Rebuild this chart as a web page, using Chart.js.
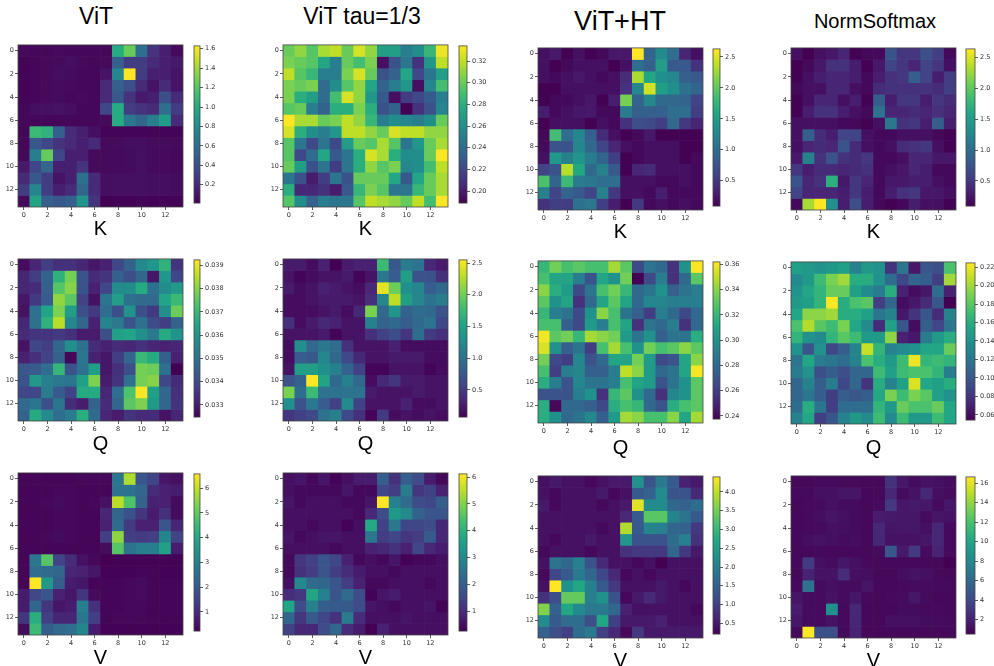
<!DOCTYPE html>
<html>
<head>
<meta charset="utf-8">
<script src="https://cdn.jsdelivr.net/npm/chart.js@4"></script>
<style>
body { margin: 0; background: #fff; width: 994px; height: 666px; position: relative; overflow: hidden; font-family: "Liberation Sans", Arial, sans-serif; }
canvas { position: absolute; }
.lbl { position: absolute; transform: translateX(-50%); white-space: nowrap; color: #000; line-height: 1; }
</style>
</head>
<body>
<script>
const titles = ["ViT", "ViT tau=1/3", "ViT+HT", "NormSoftmax"];
const rowNames = ["K", "Q", "V"];
const axisTicks = [0, 2, 4, 6, 8, 10, 12];

// ---- K ----
const vitK = [
    [0.05,0.04,0.04,0.05,0.04,0.04,0.04,0.04,1.00,1.25,0.60,0.25,0.15,0.05],
    [0.03,0.04,0.05,0.06,0.07,0.05,0.04,0.05,0.50,0.30,0.30,0.20,0.15,0.12],
    [0.03,0.04,0.05,0.07,0.06,0.04,0.04,0.10,0.75,1.63,0.30,0.15,0.15,0.10],
    [0.03,0.04,0.05,0.06,0.05,0.04,0.04,0.20,0.50,0.40,0.20,0.10,0.20,0.10],
    [0.03,0.04,0.05,0.06,0.04,0.05,0.04,0.20,0.45,0.25,0.12,0.15,0.40,0.20],
    [0.04,0.07,0.08,0.09,0.07,0.04,0.04,0.35,1.00,0.30,0.25,0.20,0.60,0.30],
    [0.04,0.04,0.04,0.04,0.04,0.04,0.04,0.05,1.00,0.65,0.55,0.70,0.90,0.20],
    [0.04,1.10,1.05,0.50,0.20,0.15,0.08,0.03,0.03,0.03,0.03,0.03,0.03,0.03],
    [0.04,0.45,0.35,0.25,0.20,0.15,0.20,0.05,0.06,0.07,0.07,0.06,0.06,0.05],
    [0.05,0.70,1.25,0.35,0.15,0.15,0.05,0.05,0.05,0.06,0.08,0.05,0.05,0.04],
    [0.12,0.35,0.55,0.15,0.15,0.25,0.05,0.05,0.05,0.06,0.08,0.05,0.05,0.04],
    [0.20,0.45,0.30,0.10,0.15,0.60,0.20,0.07,0.08,0.08,0.08,0.07,0.07,0.06],
    [0.30,0.75,0.30,0.15,0.20,0.55,0.20,0.07,0.08,0.08,0.08,0.07,0.07,0.06],
    [0.05,0.95,0.50,0.45,0.50,0.85,0.25,0.01,0.02,0.02,0.03,0.02,0.02,0.02]
];
const tauK = [
    [0.300,0.310,0.295,0.315,0.320,0.300,0.325,0.310,0.270,0.270,0.250,0.260,0.285,0.330],
    [0.305,0.300,0.295,0.275,0.250,0.300,0.290,0.305,0.195,0.225,0.245,0.210,0.265,0.320],
    [0.320,0.295,0.285,0.250,0.250,0.305,0.325,0.300,0.225,0.235,0.275,0.220,0.245,0.270],
    [0.305,0.300,0.305,0.240,0.260,0.295,0.310,0.275,0.235,0.250,0.265,0.195,0.255,0.290],
    [0.305,0.280,0.270,0.240,0.290,0.325,0.310,0.265,0.230,0.195,0.215,0.220,0.230,0.250],
    [0.295,0.300,0.250,0.235,0.280,0.280,0.305,0.280,0.225,0.235,0.189,0.210,0.225,0.255],
    [0.334,0.315,0.315,0.300,0.305,0.320,0.310,0.285,0.250,0.260,0.255,0.250,0.260,0.300],
    [0.325,0.280,0.260,0.250,0.265,0.320,0.320,0.310,0.300,0.325,0.320,0.320,0.310,0.310],
    [0.295,0.245,0.220,0.245,0.220,0.270,0.300,0.295,0.315,0.295,0.245,0.265,0.300,0.315],
    [0.295,0.220,0.240,0.275,0.230,0.245,0.280,0.325,0.315,0.280,0.260,0.260,0.300,0.333],
    [0.300,0.270,0.225,0.245,0.215,0.245,0.280,0.310,0.295,0.305,0.255,0.260,0.290,0.320],
    [0.245,0.225,0.200,0.215,0.245,0.225,0.300,0.300,0.300,0.275,0.230,0.275,0.300,0.315],
    [0.280,0.205,0.205,0.210,0.200,0.230,0.285,0.305,0.295,0.245,0.245,0.285,0.300,0.315],
    [0.295,0.260,0.235,0.250,0.245,0.245,0.295,0.320,0.315,0.310,0.300,0.320,0.290,0.333]
];
const htK = [
    [0.20,0.25,0.10,0.20,0.10,0.15,0.25,0.25,2.63,0.90,1.30,1.00,0.35,0.20],
    [0.20,0.10,0.15,0.20,0.20,0.20,0.10,0.20,1.00,0.85,1.50,0.80,0.80,0.45],
    [0.20,0.15,0.20,0.25,0.20,0.15,0.20,0.40,2.30,1.60,1.35,1.25,0.85,0.80],
    [0.10,0.10,0.20,0.20,0.20,0.20,0.20,0.45,1.25,2.45,1.50,1.35,1.05,0.90],
    [0.10,0.15,0.15,0.20,0.25,0.10,0.30,2.10,0.90,1.25,0.95,0.95,0.90,0.60],
    [0.30,0.15,0.20,0.25,0.25,0.15,0.15,1.15,0.85,0.85,0.85,1.00,1.00,0.55],
    [0.10,0.20,0.20,0.20,0.10,0.20,0.15,0.45,0.70,0.65,0.55,0.95,0.50,0.35],
    [0.15,1.85,1.00,1.25,0.85,0.40,0.20,0.10,0.15,0.25,0.10,0.10,0.10,0.10],
    [0.15,0.75,0.75,1.25,0.95,0.60,0.35,0.20,0.15,0.20,0.20,0.20,0.10,0.10],
    [0.20,1.45,1.20,1.40,1.15,0.90,0.55,0.10,0.15,0.20,0.20,0.20,0.10,0.15],
    [0.60,0.75,2.35,1.60,0.95,1.20,0.80,0.10,0.35,0.40,0.20,0.20,0.20,0.15],
    [1.90,0.90,1.80,1.15,1.10,1.00,1.00,0.20,0.20,0.20,0.15,0.15,0.20,0.15],
    [1.20,0.60,0.90,0.80,0.60,1.20,0.50,0.20,0.20,0.15,0.30,0.15,0.15,0.15],
    [0.45,0.55,0.55,1.05,1.10,0.55,0.30,0.09,0.50,0.15,0.20,0.15,0.20,0.15]
];
const nsK = [
    [0.20,0.09,0.20,0.25,0.35,0.10,0.15,0.15,0.75,0.50,0.50,0.70,0.55,0.15],
    [0.10,0.15,0.25,0.45,0.45,0.30,0.10,0.25,0.60,0.50,0.35,0.60,0.50,0.20],
    [0.10,0.20,0.30,0.35,0.35,0.30,0.15,0.30,0.45,0.50,0.85,0.60,0.30,0.55],
    [0.15,0.20,0.20,0.35,0.35,0.20,0.15,0.40,0.45,0.45,0.45,0.45,0.40,0.55],
    [0.10,0.20,0.35,0.35,0.20,0.30,0.10,0.85,0.30,0.50,0.50,0.30,0.50,0.40],
    [0.10,0.30,0.45,0.45,0.30,0.20,0.15,1.05,0.35,0.35,0.40,0.35,0.45,0.35],
    [0.20,0.20,0.20,0.20,0.15,0.15,0.10,0.20,1.10,0.45,0.50,0.30,0.85,0.30],
    [0.20,0.85,0.40,0.30,0.60,0.60,0.20,0.15,0.15,0.20,0.20,0.20,0.15,0.10],
    [0.20,0.35,0.40,0.35,0.75,0.40,0.20,0.15,0.20,0.40,0.45,0.50,0.20,0.10],
    [0.25,1.20,0.45,0.75,0.45,0.40,0.50,0.15,0.15,0.20,0.35,0.35,0.25,0.25],
    [0.50,0.30,0.40,0.40,0.35,0.40,0.45,0.15,0.20,0.25,0.35,0.30,0.15,0.15],
    [0.75,0.35,0.45,1.70,0.25,0.50,0.35,0.15,0.25,0.25,0.30,0.30,0.20,0.15],
    [0.60,0.35,0.35,0.35,0.30,0.50,0.30,0.15,0.30,0.45,0.50,0.25,0.25,0.20],
    [0.15,2.30,2.64,1.35,0.30,0.70,0.30,0.15,0.10,0.15,0.30,0.20,0.20,0.10]
];

// ---- Q ----
const vitQ = [
    [0.0327,0.0332,0.0337,0.0334,0.0334,0.0332,0.0329,0.0331,0.0339,0.0346,0.0356,0.0360,0.0368,0.0335],
    [0.0332,0.0337,0.0346,0.0368,0.0378,0.0342,0.0333,0.0335,0.0345,0.0341,0.0347,0.0329,0.0360,0.0339],
    [0.0332,0.0333,0.0345,0.0374,0.0380,0.0342,0.0331,0.0339,0.0357,0.0357,0.0366,0.0350,0.0357,0.0361],
    [0.0329,0.0336,0.0344,0.0381,0.0375,0.0338,0.0328,0.0351,0.0362,0.0350,0.0348,0.0348,0.0364,0.0370],
    [0.0328,0.0350,0.0364,0.0379,0.0362,0.0341,0.0336,0.0349,0.0341,0.0359,0.0341,0.0336,0.0358,0.0377],
    [0.0332,0.0350,0.0368,0.0385,0.0356,0.0347,0.0331,0.0355,0.0352,0.0342,0.0350,0.0340,0.0337,0.0346],
    [0.0333,0.0335,0.0335,0.0336,0.0334,0.0330,0.0330,0.0341,0.0363,0.0364,0.0358,0.0352,0.0366,0.0359],
    [0.0328,0.0339,0.0337,0.0347,0.0358,0.0350,0.0333,0.0331,0.0333,0.0332,0.0334,0.0332,0.0331,0.0332],
    [0.0331,0.0334,0.0338,0.0346,0.0326,0.0351,0.0331,0.0329,0.0337,0.0347,0.0370,0.0366,0.0345,0.0331],
    [0.0343,0.0344,0.0349,0.0369,0.0342,0.0350,0.0362,0.0329,0.0334,0.0341,0.0378,0.0377,0.0350,0.03248],
    [0.0342,0.0361,0.0354,0.0352,0.0351,0.0363,0.0379,0.0330,0.0335,0.0350,0.0378,0.0380,0.0339,0.0333],
    [0.0339,0.0339,0.0353,0.0344,0.0338,0.0366,0.0366,0.0332,0.0349,0.0373,0.03923,0.0363,0.0347,0.0334],
    [0.0348,0.0351,0.0341,0.0351,0.0333,0.0330,0.0346,0.0333,0.0347,0.0375,0.0379,0.0361,0.0347,0.0335],
    [0.0346,0.0366,0.0357,0.0349,0.0353,0.0367,0.0348,0.0332,0.0330,0.0335,0.0333,0.0333,0.0328,0.0332]
];
const tauQ = [
    [0.25,0.25,0.15,0.30,0.07,0.25,0.30,0.30,1.75,0.75,1.10,1.00,0.35,0.25],
    [0.20,0.10,0.15,0.20,0.20,0.25,0.10,0.20,1.05,0.80,1.45,0.70,0.70,0.40],
    [0.25,0.15,0.20,0.30,0.25,0.20,0.15,0.35,2.45,2.00,1.30,1.20,0.80,0.90],
    [0.15,0.15,0.20,0.25,0.25,0.25,0.20,0.40,1.20,2.30,1.45,1.20,1.00,1.10],
    [0.15,0.15,0.15,0.20,0.25,0.15,0.35,2.05,0.90,1.35,0.85,0.95,0.90,0.70],
    [0.40,0.15,0.25,0.35,0.30,0.20,0.20,1.15,0.85,0.90,0.80,0.90,1.00,0.60],
    [0.20,0.20,0.20,0.25,0.10,0.20,0.20,0.40,0.55,0.65,0.45,0.95,0.50,0.40],
    [0.15,1.30,0.90,1.05,0.95,0.40,0.20,0.20,0.20,0.30,0.15,0.15,0.15,0.15],
    [0.15,0.80,0.75,1.20,0.90,0.60,0.35,0.20,0.20,0.25,0.25,0.25,0.15,0.15],
    [0.20,1.45,1.45,1.30,1.15,0.85,0.55,0.10,0.10,0.20,0.20,0.20,0.10,0.15],
    [0.70,0.85,2.55,1.50,0.90,1.15,0.90,0.15,0.35,0.45,0.25,0.25,0.20,0.20],
    [2.05,0.95,1.75,1.00,1.00,1.00,1.00,0.25,0.20,0.20,0.20,0.25,0.20,0.20],
    [1.30,0.70,1.05,0.80,0.55,1.25,0.55,0.20,0.20,0.20,0.30,0.15,0.15,0.20],
    [0.45,0.55,0.60,1.00,1.15,0.60,0.40,0.10,0.50,0.15,0.20,0.15,0.20,0.15]
];
const htQ = [
    [0.320,0.335,0.325,0.330,0.325,0.325,0.345,0.330,0.265,0.285,0.280,0.255,0.300,0.362],
    [0.325,0.310,0.310,0.290,0.270,0.310,0.300,0.335,0.2375,0.265,0.290,0.255,0.280,0.330],
    [0.340,0.315,0.305,0.265,0.285,0.325,0.335,0.320,0.280,0.285,0.300,0.275,0.285,0.290],
    [0.330,0.300,0.310,0.255,0.280,0.310,0.330,0.310,0.280,0.295,0.295,0.290,0.290,0.290],
    [0.320,0.290,0.285,0.265,0.300,0.340,0.325,0.285,0.275,0.260,0.290,0.280,0.265,0.280],
    [0.325,0.325,0.275,0.265,0.305,0.290,0.325,0.310,0.255,0.285,0.280,0.290,0.255,0.280],
    [0.360,0.330,0.335,0.320,0.345,0.340,0.335,0.305,0.285,0.300,0.275,0.285,0.285,0.315],
    [0.355,0.300,0.275,0.285,0.260,0.325,0.345,0.325,0.300,0.335,0.325,0.330,0.340,0.330],
    [0.335,0.265,0.260,0.295,0.270,0.280,0.310,0.310,0.335,0.305,0.265,0.270,0.310,0.340],
    [0.325,0.260,0.290,0.295,0.275,0.275,0.290,0.350,0.340,0.305,0.280,0.285,0.310,0.360],
    [0.315,0.290,0.270,0.295,0.285,0.285,0.290,0.325,0.310,0.305,0.270,0.285,0.300,0.330],
    [0.270,0.270,0.270,0.290,0.300,0.255,0.320,0.330,0.300,0.280,0.255,0.295,0.300,0.330],
    [0.315,0.240,0.280,0.280,0.275,0.265,0.315,0.325,0.320,0.280,0.270,0.315,0.325,0.330],
    [0.315,0.300,0.280,0.285,0.295,0.275,0.305,0.345,0.340,0.325,0.325,0.340,0.310,0.345]
];
const nsQ = [
    [0.150,0.145,0.140,0.145,0.150,0.130,0.145,0.140,0.080,0.120,0.065,0.100,0.095,0.175],
    [0.135,0.145,0.170,0.190,0.200,0.160,0.160,0.140,0.115,0.090,0.110,0.105,0.085,0.200],
    [0.140,0.155,0.165,0.185,0.185,0.150,0.135,0.125,0.160,0.070,0.060,0.065,0.115,0.070],
    [0.145,0.150,0.165,0.2245,0.160,0.175,0.180,0.085,0.110,0.060,0.065,0.075,0.100,0.0543],
    [0.155,0.195,0.195,0.200,0.160,0.160,0.150,0.120,0.130,0.065,0.080,0.100,0.075,0.130],
    [0.175,0.205,0.180,0.170,0.190,0.155,0.135,0.075,0.150,0.100,0.060,0.105,0.090,0.120],
    [0.165,0.140,0.135,0.165,0.180,0.170,0.145,0.145,0.195,0.070,0.065,0.125,0.145,0.160],
    [0.140,0.100,0.140,0.090,0.105,0.130,0.210,0.165,0.130,0.135,0.140,0.155,0.155,0.185],
    [0.120,0.155,0.125,0.120,0.115,0.130,0.175,0.160,0.145,0.170,0.220,0.165,0.170,0.165],
    [0.125,0.140,0.095,0.105,0.095,0.110,0.110,0.170,0.150,0.170,0.175,0.175,0.165,0.125],
    [0.110,0.130,0.105,0.125,0.090,0.110,0.080,0.160,0.130,0.150,0.215,0.155,0.150,0.160],
    [0.110,0.120,0.105,0.085,0.105,0.100,0.105,0.155,0.190,0.170,0.190,0.180,0.150,0.140],
    [0.115,0.160,0.120,0.085,0.115,0.115,0.115,0.165,0.145,0.185,0.175,0.175,0.185,0.155],
    [0.130,0.155,0.085,0.100,0.130,0.145,0.135,0.170,0.135,0.170,0.145,0.145,0.170,0.155]
];

// ---- V ----
const vitV = [
    [0.30,0.30,0.30,0.30,0.30,0.35,0.35,0.35,2.70,5.80,1.90,1.50,0.60,0.50],
    [0.30,0.30,0.30,0.35,0.35,0.30,0.30,0.30,2.60,2.60,2.30,1.00,0.80,0.70],
    [0.30,0.30,0.35,0.40,0.35,0.30,0.35,0.50,5.90,4.80,2.20,0.80,0.80,0.40],
    [0.30,0.30,0.30,0.35,0.35,0.30,0.30,0.90,2.30,1.80,1.20,0.70,1.10,0.40],
    [0.30,0.30,0.30,0.35,0.35,0.30,0.30,0.80,2.40,1.30,0.80,0.80,1.90,0.90],
    [0.30,0.30,0.35,0.40,0.35,0.30,0.30,1.40,5.50,1.40,1.30,1.40,3.10,1.50],
    [0.30,0.30,0.30,0.30,0.30,0.30,0.30,0.40,4.90,2.60,2.90,2.90,3.80,0.70],
    [0.30,2.70,4.90,1.50,1.00,0.50,0.35,0.22,0.25,0.25,0.25,0.25,0.25,0.25],
    [0.30,2.50,2.40,2.30,0.90,0.80,0.60,0.25,0.25,0.25,0.30,0.30,0.25,0.25],
    [0.30,6.58,3.60,2.10,0.70,0.60,0.30,0.30,0.30,0.35,0.40,0.30,0.30,0.30],
    [0.70,1.60,1.90,0.80,0.60,1.20,0.40,0.30,0.30,0.35,0.40,0.30,0.30,0.30],
    [0.70,2.30,1.20,0.60,0.70,2.90,1.10,0.30,0.30,0.35,0.35,0.30,0.30,0.30],
    [1.20,4.20,1.40,0.90,0.90,2.70,1.40,0.30,0.35,0.35,0.35,0.30,0.30,0.30],
    [0.40,4.50,2.10,2.40,2.50,3.10,0.70,0.25,0.25,0.25,0.25,0.25,0.25,0.25]
];
const tauV = [
    [0.5,0.6,0.4,0.6,0.3,0.5,0.7,0.7,2.0,1.1,2.0,1.6,0.7,0.4],
    [0.5,0.4,0.4,0.4,0.4,0.6,0.4,0.4,1.5,1.3,2.7,1.2,1.4,0.8],
    [0.6,0.4,0.5,0.5,0.5,0.4,0.4,0.6,6.12,2.8,2.3,1.6,1.5,2.0],
    [0.5,0.5,0.5,0.5,0.5,0.5,0.4,0.9,1.6,3.4,3.0,2.1,1.8,1.8],
    [0.5,0.5,0.4,0.5,0.5,0.3,0.5,3.8,1.4,2.6,1.5,1.5,1.6,0.9],
    [0.6,0.4,0.5,0.6,0.6,0.5,0.5,2.6,1.3,1.5,1.2,1.3,1.9,0.9],
    [0.5,0.5,0.5,0.5,0.4,0.5,0.5,0.8,0.9,1.1,0.8,1.5,0.9,0.7],
    [0.4,1.2,1.4,1.8,1.5,0.8,0.4,0.5,0.4,0.6,0.3,0.4,0.4,0.5],
    [0.4,1.1,1.3,1.8,1.3,1.0,0.7,0.5,0.5,0.4,0.5,0.5,0.5,0.5],
    [0.5,3.0,2.3,2.2,1.8,1.3,0.8,0.4,0.4,0.5,0.5,0.5,0.4,0.5],
    [1.0,1.2,3.7,2.8,1.8,2.3,1.6,0.3,0.6,0.7,0.5,0.5,0.5,0.5],
    [3.7,1.6,2.8,2.0,1.9,1.9,1.6,0.6,0.5,0.4,0.5,0.5,0.6,0.3],
    [2.2,1.2,1.9,1.5,1.1,2.7,1.0,0.5,0.5,0.5,0.6,0.5,0.5,0.5],
    [1.4,0.9,0.9,1.6,2.2,1.0,0.7,0.26,0.8,0.5,0.5,0.5,0.5,0.5]
];
const htV = [
    [0.4,0.5,0.4,0.4,0.3,0.4,0.5,0.5,2.3,1.3,1.9,1.4,0.6,0.5],
    [0.4,0.3,0.4,0.4,0.4,0.5,0.3,0.4,1.4,1.5,2.2,1.3,1.3,0.7],
    [0.5,0.3,0.4,0.4,0.4,0.3,0.4,0.5,4.2,2.2,2.2,1.6,1.5,1.7],
    [0.4,0.4,0.4,0.4,0.4,0.4,0.4,0.7,1.4,3.3,3.3,2.1,1.8,1.4],
    [0.4,0.4,0.4,0.4,0.4,0.3,0.4,3.9,1.4,2.1,2.0,1.6,1.5,0.9],
    [0.4,0.3,0.4,0.4,0.5,0.4,0.4,2.4,1.3,1.3,1.3,1.7,2.0,0.8],
    [0.3,0.4,0.4,0.4,0.3,0.4,0.4,0.8,0.9,0.9,0.9,1.6,0.9,0.5],
    [0.4,1.8,1.6,2.0,1.3,0.7,0.4,0.4,0.3,0.4,0.214,0.4,0.4,0.4],
    [0.3,1.1,1.4,1.9,1.6,1.1,0.7,0.3,0.4,0.3,0.4,0.4,0.4,0.4],
    [0.4,4.4,2.3,2.7,2.0,1.4,0.9,0.4,0.4,0.4,0.5,0.4,0.3,0.4],
    [0.8,1.2,3.4,3.4,2.0,2.3,1.3,0.3,0.5,0.7,0.5,0.4,0.4,0.4],
    [3.6,1.5,2.7,2.2,1.9,1.9,1.6,0.6,0.4,0.4,0.4,0.4,0.4,0.3],
    [2.2,1.4,1.7,1.7,1.2,2.7,1.0,0.5,0.5,0.5,0.6,0.4,0.4,0.4],
    [1.5,1.2,1.0,1.7,1.9,1.0,0.7,0.3,0.9,0.5,0.5,0.5,0.5,0.5]
];
const nsV = [
    [0.8,0.8,0.9,0.9,0.9,0.9,0.8,0.8,2.8,1.5,1.0,1.3,1.2,1.0],
    [0.9,0.9,1.2,1.2,1.4,1.4,0.8,0.9,2.3,1.0,1.3,2.3,1.2,1.0],
    [0.8,0.9,1.0,1.2,1.0,1.0,0.8,1.0,3.1,1.5,1.6,1.5,1.0,1.5],
    [0.8,0.9,1.1,1.4,1.2,1.0,0.8,1.7,1.6,1.5,1.5,1.0,1.4,1.3],
    [0.8,0.9,1.0,1.2,1.1,1.0,0.8,2.3,1.4,1.5,1.5,1.2,2.2,0.9],
    [0.8,1.1,1.3,1.2,1.0,1.1,0.8,2.3,1.3,1.3,1.3,1.5,2.2,0.9],
    [0.8,0.8,0.8,0.8,0.8,0.8,0.8,1.0,4.8,1.6,3.2,1.0,2.0,0.9],
    [0.8,3.3,1.2,1.0,1.5,1.2,0.9,0.8,0.8,0.8,0.8,0.8,0.8,0.5],
    [0.8,2.0,1.3,1.3,2.5,1.2,1.1,0.8,0.8,1.1,1.3,1.2,0.9,0.8],
    [0.9,6.5,1.0,1.2,1.0,1.0,1.4,0.8,0.8,0.9,1.0,1.0,0.9,0.9],
    [1.4,1.0,1.0,1.3,1.0,1.5,0.9,0.8,0.9,1.0,1.5,1.0,0.8,0.8],
    [1.7,1.0,1.0,8.5,0.9,2.3,0.8,0.8,0.8,1.0,1.0,0.9,0.9,0.8],
    [1.5,1.0,1.0,1.3,0.9,2.2,0.8,0.8,1.2,1.2,1.2,1.0,1.0,0.9],
    [0.9,16.65,4.4,4.4,0.9,2.0,0.8,0.8,0.8,0.8,0.8,0.8,0.8,0.8]
];

const matrices = [
    [vitK, tauK, htK, nsK],
    [vitQ, tauQ, htQ, nsQ],
    [vitV, tauV, htV, nsV]
];

// colorbar tick values and decimals
const cbTicks = [
    [[0.2,0.4,0.6,0.8,1.0,1.2,1.4,1.6], [0.20,0.22,0.24,0.26,0.28,0.30,0.32], [0.5,1.0,1.5,2.0,2.5], [0.5,1.0,1.5,2.0,2.5]],
    [[0.033,0.034,0.035,0.036,0.037,0.038,0.039], [0.5,1.0,1.5,2.0,2.5], [0.24,0.26,0.28,0.30,0.32,0.34,0.36], [0.06,0.08,0.10,0.12,0.14,0.16,0.18,0.20,0.22]],
    [[1,2,3,4,5,6], [1,2,3,4,5,6], [0.5,1.0,1.5,2.0,2.5,3.0,3.5,4.0], [2,4,6,8,10,12,14,16]]
];
const cbDigits = [
    [1, 2, 1, 1],
    [3, 1, 2, 2],
    [0, 0, 1, 0]
];

// layout (pixels)
const heatLeft = [18, 283, 538, 791];
const heatTop = [[42, 42, 45, 45], [256, 256, 258, 259], [470, 470, 473, 473]];
const HEAT = 165;
const cbLeft = [194, 459, 713, 966];
const cbWidth = [6, 8, 7, 9];
const AX_W = 20, AX_H = 14, PAD = 2, CB_AX = 36;
const tickFont = { size: 6.5, family: "'DejaVu Sans', sans-serif" };
const tickColor = "#333";

const viridisStops = ["#440154", "#482475", "#414487", "#355f8d", "#2a788e", "#21918c", "#22a884", "#44bf70", "#7ad151", "#bddf26", "#fde725"];

function hexRgb(h) {
    return [parseInt(h.slice(1, 3), 16), parseInt(h.slice(3, 5), 16), parseInt(h.slice(5, 7), 16)];
}

function viridis(t) {
    t = Math.max(0, Math.min(1, t));
    const s = t * 10;
    const i = Math.min(9, Math.floor(s));
    const f = s - i;
    const a = hexRgb(viridisStops[i]);
    const b = hexRgb(viridisStops[i + 1]);
    const c = a.map((v, k) => Math.round(v + (b[k] - v) * f));
    return `rgb(${c[0]},${c[1]},${c[2]})`;
}

const framePlugin = {
    id: "frame",
    afterDatasetsDraw(chart) {
        const { ctx, chartArea: a } = chart;
        ctx.save();
        ctx.strokeStyle = "#444";
        ctx.lineWidth = 0.8;
        ctx.strokeRect(a.left, a.top, a.width, a.height);
        ctx.restore();
    }
};

function makeCanvas(left, top, w, h) {
    const c = document.createElement("canvas");
    c.width = w;
    c.height = h;
    c.style.left = left + "px";
    c.style.top = top + "px";
    document.body.appendChild(c);
    return c;
}

function tickAxis(extra) {
    return Object.assign({
        type: "linear",
        min: -0.5,
        max: 13.5,
        offset: false,
        afterBuildTicks: (a) => { a.ticks = axisTicks.map(v => ({ value: v })); },
        grid: { offset: false, drawOnChartArea: false, tickLength: 3, color: tickColor, lineWidth: 0.8 },
        border: { display: false },
        ticks: { font: tickFont, color: tickColor, padding: 1, autoSkip: false, maxRotation: 0, callback: v => String(v) }
    }, extra);
}

function drawHeat(matrix, left, top) {
    const canvas = makeCanvas(left - AX_W, top - PAD, AX_W + HEAT + PAD, PAD + HEAT + AX_H);
    const flat = matrix.flat();
    const vmin = Math.min(...flat);
    const vmax = Math.max(...flat);

    const datasets = matrix.map((row, r) => ({
        data: row.map((v, c) => ({ x: c, y: [r - 0.5, r + 0.5] })),
        backgroundColor: row.map(v => viridis((v - vmin) / (vmax - vmin))),
        borderWidth: 0,
        grouped: false,
        barPercentage: 1,
        categoryPercentage: 1
    }));

    new Chart(canvas, {
        type: "bar",
        data: { datasets: datasets },
        options: {
            responsive: false,
            animation: false,
            events: [],
            layout: { padding: { top: PAD, right: PAD, left: 0, bottom: 0 } },
            plugins: { legend: { display: false }, tooltip: { enabled: false } },
            scales: {
                x: tickAxis({ afterFit: a => { a.height = AX_H; } }),
                y: tickAxis({ reverse: true, afterFit: a => { a.width = AX_W; } })
            }
        },
        plugins: [framePlugin]
    });
    return [vmin, vmax];
}

function drawColorbar(range, ticks, digits, left, top, width) {
    const canvas = makeCanvas(left - 1, top - PAD, 1 + width + CB_AX, PAD + HEAT + PAD);

    new Chart(canvas, {
        type: "bar",
        data: {
            labels: [""],
            datasets: [{
                data: [[range[0], range[1]]],
                backgroundColor: (ctx) => {
                    const area = ctx.chart.chartArea;
                    if (!area) return viridisStops[5];
                    const g = ctx.chart.ctx.createLinearGradient(0, area.bottom, 0, area.top);
                    viridisStops.forEach((s, k) => g.addColorStop(k / 10, s));
                    return g;
                },
                borderWidth: 0,
                barPercentage: 1,
                categoryPercentage: 1
            }]
        },
        options: {
            responsive: false,
            animation: false,
            events: [],
            layout: { padding: { top: PAD, right: 0, left: 1, bottom: PAD } },
            plugins: { legend: { display: false }, tooltip: { enabled: false } },
            scales: {
                x: { display: false },
                y: {
                    position: "right",
                    min: range[0],
                    max: range[1],
                    afterBuildTicks: a => { a.ticks = ticks.map(v => ({ value: v })); },
                    afterFit: a => { a.width = CB_AX; },
                    grid: { drawOnChartArea: false, tickLength: 3, color: tickColor, lineWidth: 0.8 },
                    border: { display: false },
                    ticks: { font: tickFont, color: tickColor, padding: 2, autoSkip: false, callback: v => v.toFixed(digits) }
                }
            }
        },
        plugins: [framePlugin]
    });
}

function addLabel(text, cx, top, size) {
    const d = document.createElement("div");
    d.className = "lbl";
    d.textContent = text;
    d.style.left = cx + "px";
    d.style.top = top + "px";
    d.style.fontSize = size + "px";
    document.body.appendChild(d);
}

const titleX = [96, 362, 620, 875];
const titleTop = [5, 5, 8, 11];
const titleSize = [23, 23, 27, 20];
const rowLabelTop = [[218, 218, 221, 221], [433, 433, 437, 437], [647, 647, 650, 650]];

titles.forEach((t, c) => addLabel(t, titleX[c], titleTop[c], titleSize[c]));

for (let r = 0; r < 3; r++) {
    for (let c = 0; c < 4; c++) {
        const top = heatTop[r][c];
        const range = drawHeat(matrices[r][c], heatLeft[c], top);
        drawColorbar(range, cbTicks[r][c], cbDigits[r][c], cbLeft[c], top, cbWidth[c]);
        addLabel(rowNames[r], heatLeft[c] + HEAT / 2, rowLabelTop[r][c], 20);
    }
}
</script>
</body>
</html>
